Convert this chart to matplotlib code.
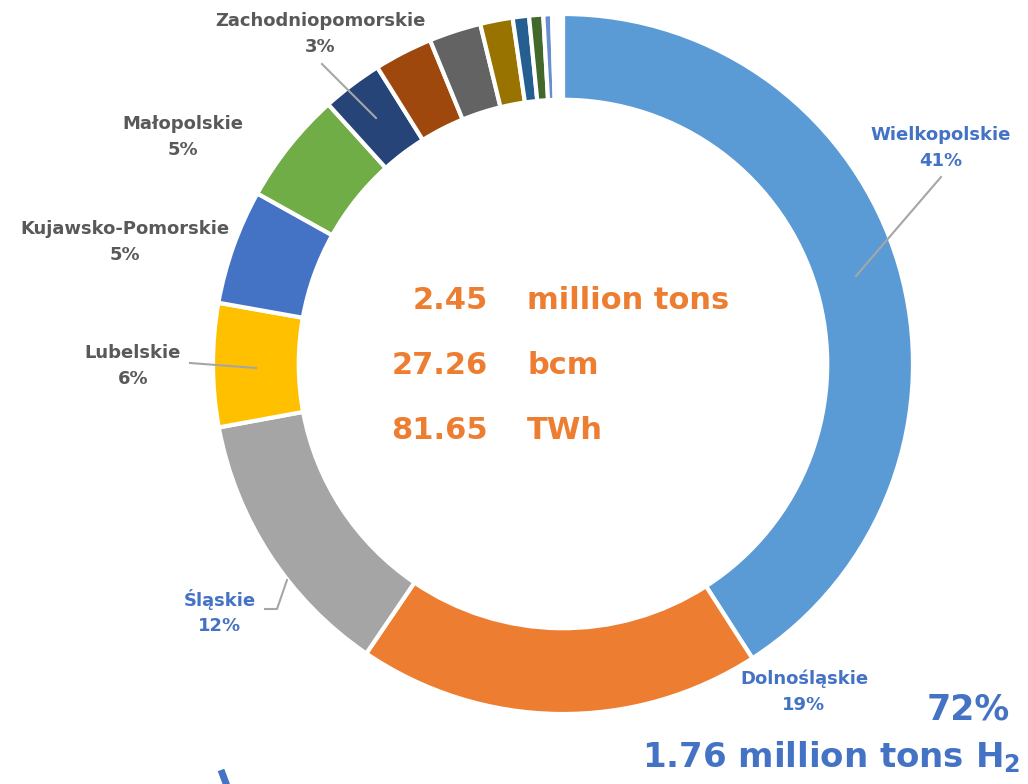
import matplotlib
matplotlib.use("Agg")
import matplotlib.pyplot as plt

# ---- data ----
regions = ["Wielkopolskie", "Dolnośląskie", "Śląskie", "Lubelskie",
           "Kujawsko-Pomorskie", "Małopolskie", "Zachodniopomorskie",
           "Łódzkie", "Mazowieckie", "Opolskie", "Pomorskie", "Podkarpackie",
           "Lubuskie", "Świętokrzyskie", "Podlaskie", "Warmińsko-Mazurskie"]
shares = [40.9, 18.6, 12.6, 5.7, 5.3, 5.2, 2.8, 2.7, 2.4, 1.5, 0.75, 0.65,
          0.4, 0.2, 0.15, 0.15]
colors = ["#5B9BD5", "#ED7D31", "#A5A5A5", "#FFC000", "#4472C4", "#70AD47",
          "#264478", "#9E480E", "#636363", "#997300", "#255E91", "#43682B",
          "#698ED0", "#F1975A", "#FFFFFF", "#FFFFFF"]
label_text = ["Wielkopolskie\n41%", "Dolnośląskie\n19%", "Śląskie\n12%",
              "Lubelskie\n6%", "Kujawsko-Pomorskie\n5%", "Małopolskie\n5%",
              "Zachodniopomorskie\n3%"]
center_values = ["2.45", "27.26", "81.65"]
center_units = ["million tons", "bcm", "TWh"]
summary_pct = "72%"
summary_tons = "1.76 million tons H$_\\mathbf{2}$"

W, H = 1028, 784
fig = plt.figure(figsize=(W / 100, H / 100), dpi=100)
ax = fig.add_axes([0, 0, 1, 1])

def Y(py):
    return H - py

cx, cy, R = 563, Y(364), 350
ax.pie(shares, colors=colors, startangle=90, counterclock=False,
       radius=R, center=(cx, cy),
       wedgeprops=dict(width=R * 0.245, edgecolor="white", linewidth=3))
ax.set_xlim(0, W)
ax.set_ylim(0, H)
ax.set_aspect("auto")
ax.axis("off")

grey_txt = "#595959"
blue_txt = "#4472C4"
line_c = "#A6A6A6"

# label positions (pixel coords) and colors
lab_pos = [(941, 148), (804, 692), (220, 612), (133, 366), (125, 242),
           (183, 137), (320, 34)]
lab_col = [blue_txt, blue_txt, blue_txt, grey_txt, grey_txt, grey_txt, grey_txt]
for t, (px, py), c in zip(label_text, lab_pos, lab_col):
    ax.text(px, Y(py), t, ha="center", va="center", fontsize=13,
            fontweight="bold", color=c, linespacing=1.55)

# leader lines
leaders = [
    [(941, 177), (856, 276)],
    [(322, 64), (376, 118)],
    [(190, 363), (256, 368)],
    [(265, 609), (277, 609), (287, 580)],
]
for pts in leaders:
    ax.plot([p[0] for p in pts], [Y(p[1]) for p in pts], color=line_c, lw=1.5)

# center text
orange = "#ED7D31"
for i, (v, u) in enumerate(zip(center_values, center_units)):
    yy = Y(300 + i * 65)
    ax.text(488, yy, v, ha="right", va="center", fontsize=22,
            fontweight="bold", color=orange)
    ax.text(527, yy, u, ha="left", va="center", fontsize=22,
            fontweight="bold", color=orange)

# summary text
ax.text(1010, Y(710), summary_pct, ha="right", va="center", fontsize=25,
        fontweight="bold", color=blue_txt)
ax.text(1020, Y(757), summary_tons, ha="right", va="center", fontsize=24.5,
        fontweight="bold", color=blue_txt)

# partial decoration at bottom-left
ax.plot([221, 227], [Y(770), Y(786)], color=blue_txt, lw=5, solid_capstyle="butt")

fig.savefig("out.png", dpi=100)
